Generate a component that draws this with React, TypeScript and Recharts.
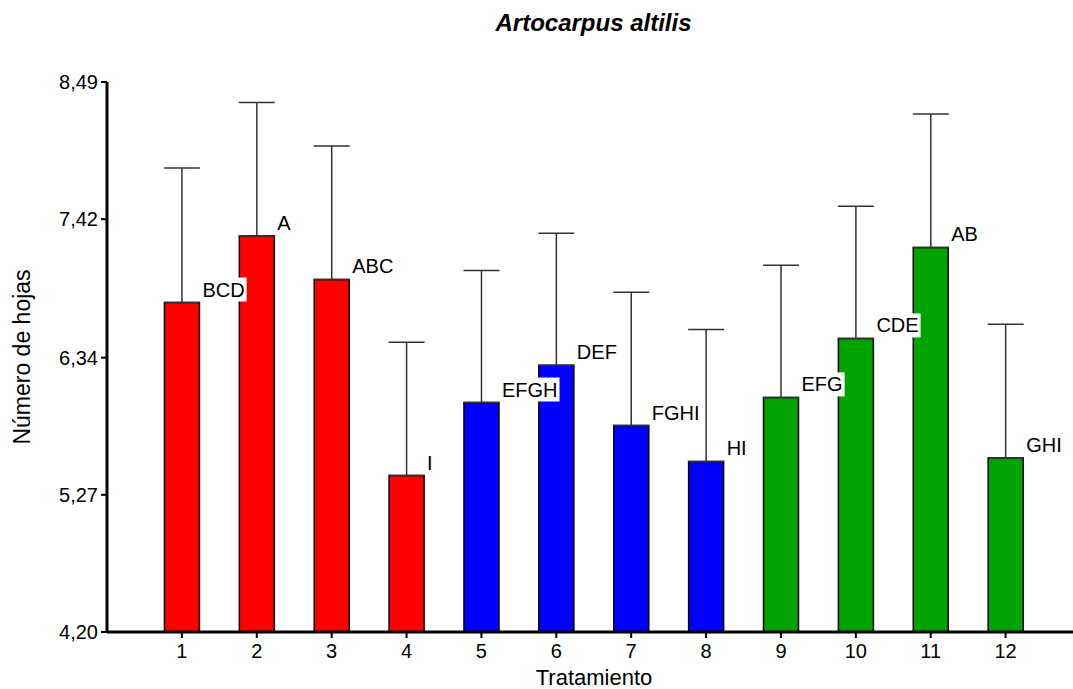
import React from 'react';
import {
  BarChart,
  Bar,
  XAxis,
  YAxis,
  Cell,
  ErrorBar,
  LabelList,
} from 'recharts';

const treatments = [1, 2, 3, 4, 5, 6, 7, 8, 9, 10, 11, 12];
const means = [6.77, 7.29, 6.95, 5.42, 5.99, 6.28, 5.81, 5.53, 6.03, 6.49, 7.2, 5.56];
const upperErrors = [1.05, 1.04, 1.04, 1.04, 1.03, 1.03, 1.04, 1.03, 1.03, 1.03, 1.04, 1.04];
const groups = ['BCD', 'A', 'ABC', 'I', 'EFGH', 'DEF', 'FGHI', 'HI', 'EFG', 'CDE', 'AB', 'GHI'];
const barColors = [
  '#ff0000', '#ff0000', '#ff0000', '#ff0000',
  '#0000ff', '#0000ff', '#0000ff', '#0000ff',
  '#00a300', '#00a300', '#00a300', '#00a300',
];
const yTicks = [4.2, 5.27, 6.34, 7.42, 8.49];

const FONT = '"Liberation Sans", Arial, sans-serif';
const LABEL_SIZE = 20;

// rough Arial advance widths for the capital letters used in the group labels
const charWidth: Record<string, number> = {
  A: 0.667, B: 0.667, C: 0.722, D: 0.722, E: 0.667,
  F: 0.611, G: 0.778, H: 0.722, I: 0.278,
};

const data = treatments.map((t, i) => ({
  t,
  mean: means[i],
  err: [0, upperErrors[i]],
  group: groups[i],
}));

function GroupLabel(props: any) {
  const x = Number(props.x);
  const y = Number(props.y);
  const w = Number(props.width);
  const text = String(props.value);
  const textW = text.split('').reduce((s, c) => s + (charWidth[c] ?? 0.65), 0) * LABEL_SIZE;
  const left = x + w + 2;
  return (
    <g>
      <rect x={left} y={y - 25} width={textW + 3} height={24} fill="#fff" />
      <text
        x={left + 1}
        y={y - 6}
        fontSize={LABEL_SIZE}
        fontFamily={FONT}
        fill="#000"
      >
        {text}
      </text>
    </g>
  );
}

const fmt = (v: number) => v.toFixed(2).replace('.', ',');

export default function App() {
  return (
    <div
      style={{
        position: 'absolute',
        left: 0,
        top: 0,
        width: 1073,
        height: 689,
        background: '#fff',
        fontFamily: FONT,
      }}
    >
      <div
        style={{
          position: 'absolute',
          left: 0,
          width: 1187,
          top: 9,
          textAlign: 'center',
          fontSize: 24,
          fontWeight: 'bold',
          fontStyle: 'italic',
        }}
      >
        Artocarpus altilis
      </div>
      <div
        style={{
          position: 'absolute',
          left: 22,
          top: 357,
          transform: 'translate(-50%, -50%) rotate(-90deg)',
          whiteSpace: 'nowrap',
          fontSize: 23,
        }}
      >
        Número de hojas
      </div>
      <div
        style={{
          position: 'absolute',
          left: 0,
          width: 1188,
          top: 665,
          textAlign: 'center',
          fontSize: 22,
        }}
      >
        Tratamiento
      </div>
      <BarChart
        width={1073}
        height={689}
        data={data}
        margin={{ top: 82, right: 0, bottom: 0, left: 0 }}
        style={{ position: 'absolute', left: 0, top: 0 }}
      >
        <XAxis
          type="number"
          dataKey="t"
          domain={[0, 12.9]}
          ticks={treatments}
          interval={0}
          allowDataOverflow
          height={57}
          axisLine={{ stroke: '#000', strokeWidth: 3 }}
          tickLine={{ stroke: '#000', strokeWidth: 2 }}
          tickSize={6}
          tickMargin={6}
          tick={{ fontSize: LABEL_SIZE, fill: '#000', fontFamily: FONT }}
        />
        <YAxis
          type="number"
          domain={[4.2, 8.49]}
          ticks={yTicks}
          interval={0}
          allowDataOverflow
          width={107}
          axisLine={{ stroke: '#000', strokeWidth: 3 }}
          tickLine={{ stroke: '#000', strokeWidth: 2 }}
          tickSize={6}
          tickMargin={3}
          tickFormatter={fmt}
          tick={{ fontSize: LABEL_SIZE, fill: '#000', fontFamily: FONT }}
        />
        <Bar
          dataKey="mean"
          barSize={35}
          stroke="#000"
          strokeWidth={1.5}
          isAnimationActive={false}
        >
          {data.map((d, i) => (
            <Cell key={d.t} fill={barColors[i]} />
          ))}
          <ErrorBar
            dataKey="err"
            direction="y"
            width={18}
            stroke="#333"
            strokeWidth={1.5}
            isAnimationActive={false}
          />
          <LabelList dataKey="group" content={GroupLabel} />
        </Bar>
      </BarChart>
    </div>
  );
}
